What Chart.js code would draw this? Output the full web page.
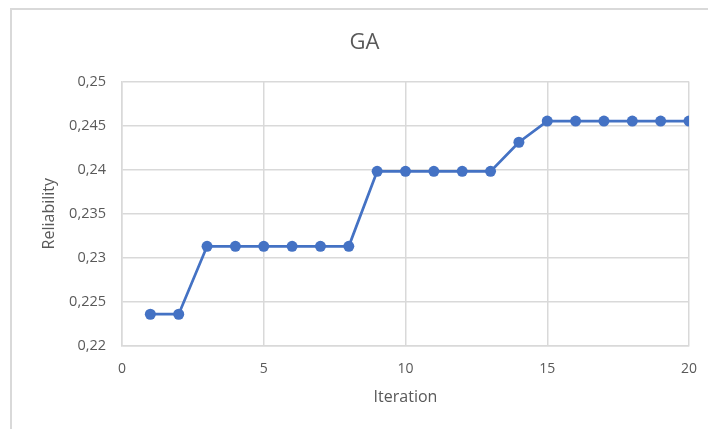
<!DOCTYPE html>
<html>
<head>
<meta charset="utf-8">
<script src="https://cdn.jsdelivr.net/npm/chart.js@4"></script>
<style>
  html, body { margin: 0; padding: 0; background: #fff; }
  #wrap { position: relative; width: 708px; height: 429px; }
  #frame { position: absolute; left: 10px; top: 8px; right: 0; bottom: 0;
           border-left: 2px solid #d9d9d9; border-top: 2px solid #d9d9d9; }
  #gaChart { position: absolute; left: 0; top: 0; }
</style>
</head>
<body>
<div id="wrap">
  <div id="frame"></div>
  <canvas id="gaChart" width="708" height="429"></canvas>
</div>
<script>
// iteration numbers and best reliability found by the GA
const iterations = [1, 2, 3, 4, 5, 6, 7, 8, 9, 10, 11, 12, 13, 14, 15, 16, 17, 18, 19, 20];
const reliability = [0.2236, 0.2236, 0.2313, 0.2313, 0.2313, 0.2313, 0.2313, 0.2313, 0.2398, 0.2398,
                     0.2398, 0.2398, 0.2398, 0.2431, 0.2455, 0.2455, 0.2455, 0.2455, 0.2455, 0.2455];
const yMin = 0.22, yMax = 0.25, yStep = 0.005;
const xMin = 0, xMax = 20, xStep = 5;

const textColor = '#595959';
const gridColor = '#d9d9d9';
const fontFamily = '"Open Sans", "Liberation Sans", sans-serif';

const ctx = document.getElementById('gaChart').getContext('2d');

new Chart(ctx, {
  type: 'line',
  data: {
    datasets: [{
      label: 'GA',
      data: iterations.map((x, i) => ({ x: x, y: reliability[i] })),
      borderColor: '#4472c4',
      backgroundColor: '#4472c4',
      borderWidth: 2.75,
      pointRadius: 5.5,
      pointHoverRadius: 5.5,
      pointBorderWidth: 0,
      fill: false,
      tension: 0
    }]
  },
  options: {
    responsive: false,
    animation: false,
    layout: { padding: { left: 40, right: 19, top: 0, bottom: 0 } },
    scales: {
      x: {
        type: 'linear',
        min: xMin,
        max: xMax,
        grid: { color: gridColor, lineWidth: 1.5, drawTicks: false },
        border: { color: gridColor, width: 1.5 },
        ticks: {
          stepSize: xStep,
          padding: 15,
          color: textColor,
          font: { family: fontFamily, size: 14 }
        },
        title: {
          display: true,
          text: 'Iteration',
          color: textColor,
          font: { family: fontFamily, size: 16 },
          padding: { top: 0, bottom: 22 }
        },
        afterFit: function(scale) {
          scale.height = 83;
          scale.paddingLeft = 0;
          scale.paddingRight = 4;
        }
      },
      y: {
        min: yMin,
        max: yMax,
        grid: { color: gridColor, lineWidth: 1.5, drawTicks: false },
        border: { color: gridColor, width: 1.5 },
        ticks: {
          stepSize: yStep,
          padding: 16,
          color: textColor,
          font: { family: fontFamily, size: 14.5 },
          callback: function(value) {
            return String(+value.toFixed(3)).replace('.', ',');
          }
        },
        title: {
          display: true,
          text: 'Reliability',
          color: textColor,
          font: { family: fontFamily, size: 16 },
          padding: { top: 0, bottom: 0 }
        },
        afterFit: function(scale) { scale.width = 82; }
      }
    },
    plugins: {
      legend: { display: false },
      tooltip: { enabled: false },
      title: {
        display: true,
        text: 'GA',
        color: textColor,
        font: { family: fontFamily, size: 22, weight: 'normal' },
        padding: { top: 30, bottom: 25 }
      }
    }
  }
});
</script>
</body>
</html>
